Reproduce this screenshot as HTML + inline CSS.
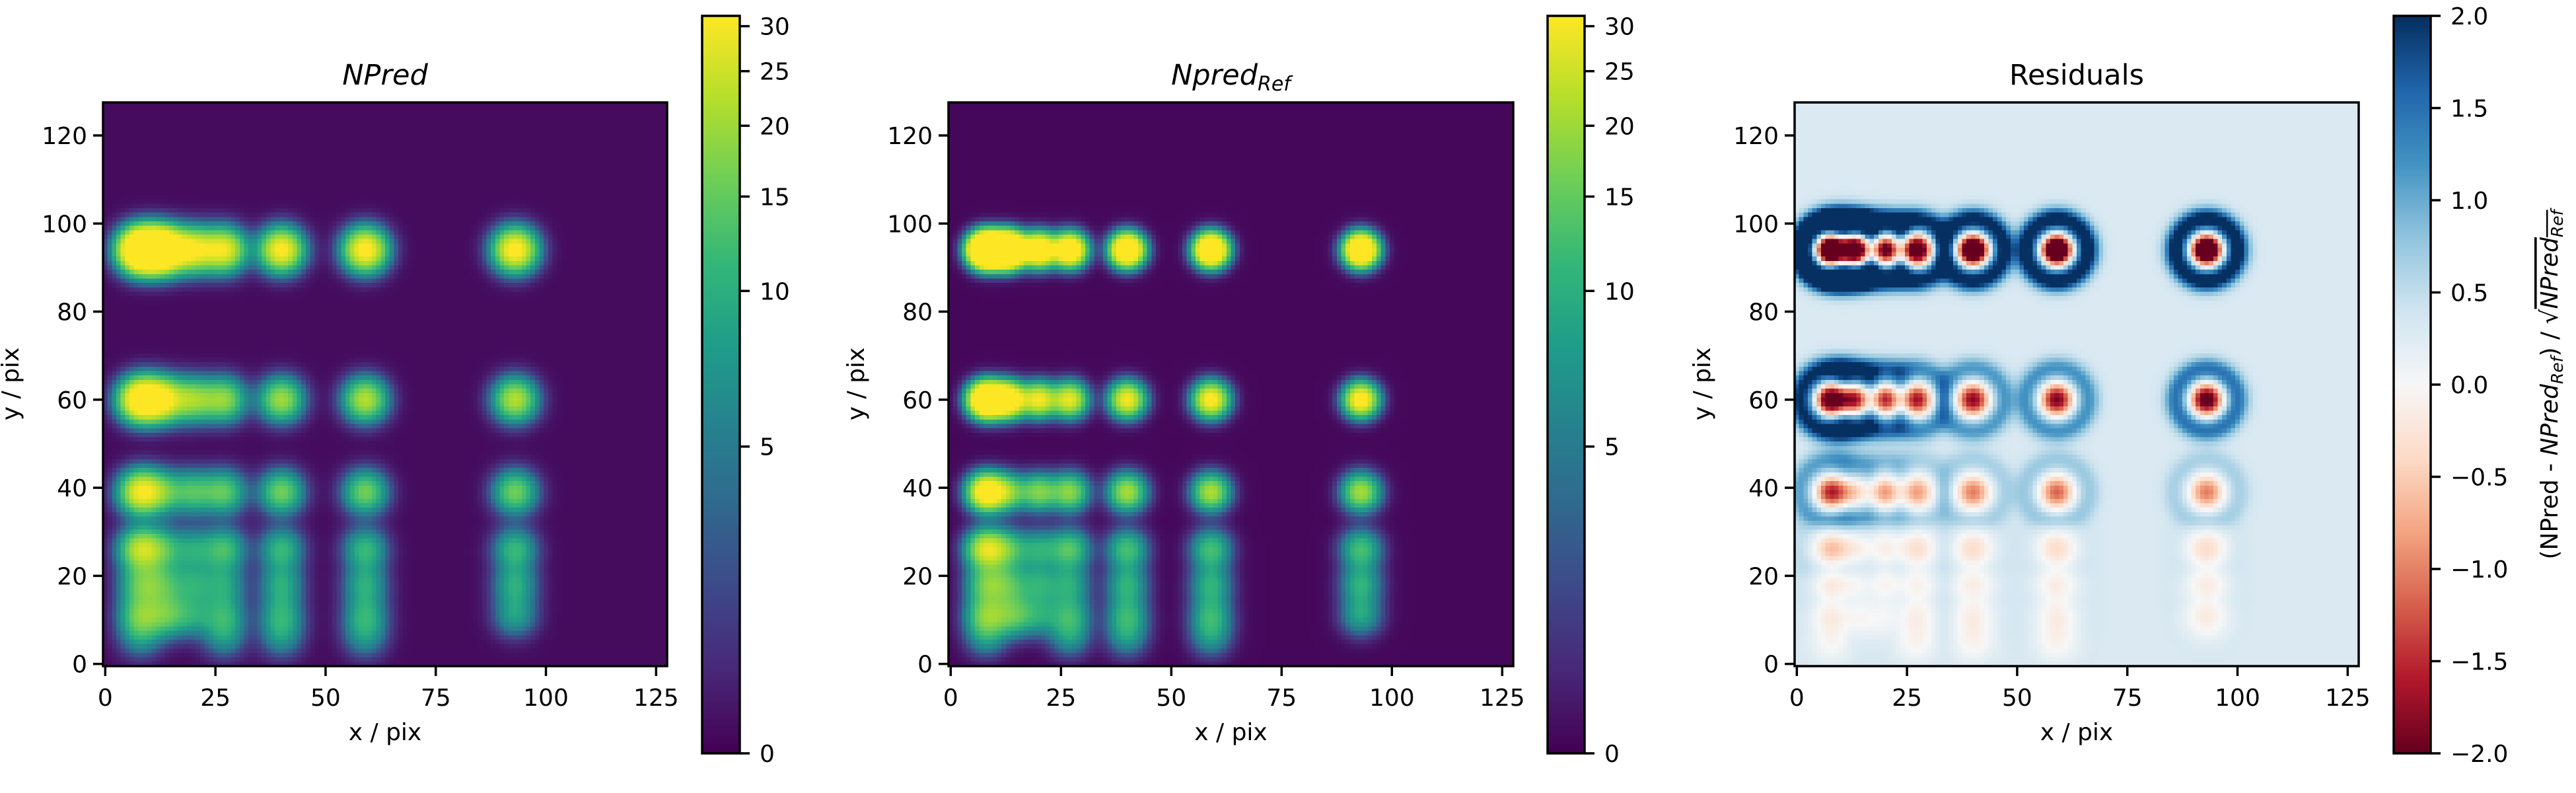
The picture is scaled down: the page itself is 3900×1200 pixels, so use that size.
<!DOCTYPE html>
<html><head><meta charset="utf-8">
<style>
html,body{margin:0;padding:0;background:#fff;}
#root{position:relative;width:3900px;height:1200px;overflow:hidden;font-family:"DejaVu Sans","Liberation Sans",sans-serif;}
canvas{position:absolute;image-rendering:pixelated;}
svg{position:absolute;left:0;top:0;}
</style></head>
<body>
<div id="root">
<canvas id="img1" width="128" height="128" style="left:156px;top:155px;width:854px;height:853px"></canvas>
<canvas id="img2" width="128" height="128" style="left:1436px;top:155px;width:855px;height:853px"></canvas>
<canvas id="img3" width="128" height="128" style="left:2717px;top:155px;width:854px;height:853px"></canvas>
<canvas id="cb1" width="1" height="256" style="left:1063px;top:24px;width:57px;height:1116px;image-rendering:auto"></canvas>
<canvas id="cb2" width="1" height="256" style="left:2343px;top:24px;width:56px;height:1116px;image-rendering:auto"></canvas>
<canvas id="cb3" width="1" height="256" style="left:3624px;top:24px;width:56px;height:1116px;image-rendering:auto"></canvas>
<svg id="ov" width="3900" height="1200"></svg>
</div>
<script>
// ---- data ----
const srcX = [8,13,20,27,40,59,93, 8,13,20,27,40,59,93, 8,13,20,27,40,59,93, 8,13,20,27,40,59,93, 8,13,20,27,40,59,93, 8,14,20,27,40,59,93, 8,27,40,59];
const srcY = [94,94,94,94,94,94,94, 60,60,60,60,60,60,60, 39,39,39,39,39,39,39, 26,26,26,26,26,26,26, 18,18,18,18,18,18,18, 11,11,11,11,11,11,11, 6,6,6,6];
const srcAmp = [60,55,28,28,32,34,34, 40,28,18,18,20,22,22, 28,12,12,14,16,16,16, 22,10,8,12,11,11,11, 12,10,8,8,9,9,9, 14,12,7,9,9,9,8, 6,6,6,6];
const srcSigRef = [2.4,2.4,2.4,2.4,2.4,2.4,2.4, 2.5,2.5,2.5,2.55,2.6,2.6,2.5, 2.7,2.7,2.7,2.8,2.8,2.75,2.8, 2.95,2.95,3.0,3.0,3.0,3.0,3.0, 3.0,3.05,3.05,3.05,3.05,3.05,3.05, 3.05,3.1,3.1,3.05,3.05,3.05,3.05, 3.05,3.05,3.05,3.05];
const cbTickVals = [0,5,10,15,20,25,30];
const cbTickFrac = [0,0.416,0.627,0.755,0.851,0.925,0.986];
const resTickVals = [-2.0,-1.5,-1.0,-0.5,0.0,0.5,1.0,1.5,2.0];
const xTicks = [0,25,50,75,100,125];
const yTicks = [0,20,40,60,80,100,120];
const sigPred = 3.2, bgPred = 0.36, bgRef = 0.22;

const viridis = ['#440154','#482878','#3e4989','#31688e','#26828e','#1f9e89','#35b779','#6ece58','#b5de2b','#fde725'];
const rdbu = ['#67001f','#b2182b','#d6604d','#f4a582','#fddbc7','#f7f7f7','#d1e5f0','#92c5de','#4393c3','#2166ac','#053061'];
function hex(h){return [parseInt(h.slice(1,3),16),parseInt(h.slice(3,5),16),parseInt(h.slice(5,7),16)];}
function cmap(stops,t){t=Math.max(0,Math.min(1,t));const n=stops.length-1;const p=t*n;let i=Math.floor(p);if(i>=n)i=n-1;const f=p-i;const a=hex(stops[i]),b=hex(stops[i+1]);return [a[0]+(b[0]-a[0])*f,a[1]+(b[1]-a[1])*f,a[2]+(b[2]-a[2])*f];}
function normN(v){const vs=cbTickVals.concat([31.1]),fs=cbTickFrac.concat([1]);if(v<=0)return 0;for(let i=1;i<vs.length;i++){if(v<=vs[i])return fs[i-1]+(fs[i]-fs[i-1])*(v-vs[i-1])/(vs[i]-vs[i-1]);}return 1;}
function model(isRef){const a=new Float32Array(128*128);const bg=isRef?bgRef:bgPred;for(let j=0;j<128;j++)for(let i=0;i<128;i++){let v=bg;for(let k=0;k<srcX.length;k++){const sig=isRef?srcSigRef[k]:sigPred;const sc=isRef?(sigPred/sig)*(sigPred/sig):1;const dx=i-srcX[k],dy=j-srcY[k];v+=srcAmp[k]*sc*Math.exp(-(dx*dx+dy*dy)/(2*sig*sig));}a[j*128+i]=v;}return a;}
const pred=model(false);
const ref=model(true);
function paint(id,fn){const c=document.getElementById(id),ctx=c.getContext('2d'),im=ctx.createImageData(128,128);for(let j=0;j<128;j++)for(let i=0;i<128;i++){const col=fn(j*128+i);const o=((127-j)*128+i)*4;im.data[o]=col[0];im.data[o+1]=col[1];im.data[o+2]=col[2];im.data[o+3]=255;}ctx.putImageData(im,0,0);}
paint('img1',k=>cmap(viridis,normN(pred[k])));
paint('img2',k=>cmap(viridis,normN(ref[k])));
paint('img3',k=>cmap(rdbu,((pred[k]-ref[k])/Math.sqrt(ref[k])+2)/4));
function bar(id,stops){const c=document.getElementById(id),ctx=c.getContext('2d');for(let y=0;y<256;y++){const col=cmap(stops,1-y/255);ctx.fillStyle='rgb('+col.map(Math.round).join(',')+')';ctx.fillRect(0,y,1,1);}}
bar('cb1',viridis);bar('cb2',viridis);bar('cb3',rdbu);

// ---- overlay ----
const NS='http://www.w3.org/2000/svg',ov=document.getElementById('ov');
function el(tag,attrs,parent){const e=document.createElementNS(NS,tag);for(const k in attrs)e.setAttribute(k,attrs[k]);(parent||ov).appendChild(e);return e;}
const FS=36;
const panels=[{L:156,R:1010,cb:1063,cbR:1120},{L:1436,R:2291,cb:2343,cbR:2399},{L:2717,R:3571,cb:3624,cbR:3680}];
const T=155,B=1008;
panels.forEach((p,pi)=>{
  const g=el('g',{});
  
  
  const sx=v=>p.L+(v+0.5)*(p.R-p.L)/128;
  const sy=v=>B-(v+0.5)*(B-T)/128;
  const fr=el('rect',{x:p.L,y:T,width:p.R-p.L,height:B-T,fill:'none',stroke:'#000','stroke-width':3.5},g);
  
  
  xTicks.forEach(v=>{
    el('line',{x1:sx(v),x2:sx(v),y1:B,y2:B+15,stroke:'#000','stroke-width':3.5},g);
    const t=el('text',{x:sx(v),y:1068,'font-size':FS,'text-anchor':'middle'},g);t.textContent=v;
    
    
  });
  yTicks.forEach(v=>{
    el('line',{x1:p.L-15,x2:p.L,y1:sy(v),y2:sy(v),stroke:'#000','stroke-width':3.5},g);
    const t=el('text',{x:p.L-24,y:sy(v)+13,'font-size':FS,'text-anchor':'end'},g);t.textContent=v;
    
    
  });
  const xl=el('text',{x:(p.L+p.R)/2,y:1120,'font-size':FS,'text-anchor':'middle'},g);xl.textContent='x / pix';
  
  
  const yl=el('text',{x:0,y:0,'font-size':FS,'text-anchor':'middle',transform:'translate('+(p.L-128)+',581) rotate(-90)'},g);yl.textContent='y / pix';
  
  
  const cf=el('rect',{x:p.cb,y:24,width:p.cbR-p.cb,height:1116,fill:'none',stroke:'#000','stroke-width':3.5},g);
  
  
  const cy=f=>1140-f*1116;
  if(pi<2){
    cbTickVals.forEach((v,i)=>{
      el('line',{x1:p.cbR,x2:p.cbR+15,y1:cy(cbTickFrac[i]),y2:cy(cbTickFrac[i]),stroke:'#000','stroke-width':3.5},g);
      const t=el('text',{x:p.cbR+30,y:cy(cbTickFrac[i])+13,'font-size':FS},g);t.textContent=v;
      
      
    });
  } else {
    resTickVals.forEach(v=>{
      const f=(v+2)/4;
      el('line',{x1:p.cbR,x2:p.cbR+15,y1:cy(f),y2:cy(f),stroke:'#000','stroke-width':3.5},g);
      const t=el('text',{x:p.cbR+30,y:cy(f)+13,'font-size':FS},g);t.textContent=(v<0?'\u2212':'')+Math.abs(v).toFixed(1);
      
      
    });
  }
});
const cx=i=>(panels[i].L+panels[i].R)/2;
let t1=el('text',{x:cx(0),y:128,'font-size':43,'text-anchor':'middle','font-style':'italic'});t1.textContent='NPred';


let t2=el('text',{x:cx(1),y:128,'font-size':43,'text-anchor':'middle','font-style':'italic'});


t2.innerHTML='Npred<tspan font-size="30" dy="9">Ref</tspan>';
let t3=el('text',{x:cx(2),y:128,'font-size':43,'text-anchor':'middle'});t3.textContent='Residuals';


let cl=el('text',{x:0,y:0,'font-size':FS,'text-anchor':'middle',transform:'translate(3872,582) rotate(-90)'});


cl.innerHTML='(NPred - <tspan font-style="italic">NPred</tspan><tspan font-style="italic" font-size="25" dy="8">Ref</tspan><tspan dy="-8">) / \u221A</tspan><tspan font-style="italic" style="text-decoration:overline">NPred<tspan font-size="25" dy="8">Ref</tspan></tspan>';
</script>
</body></html>
